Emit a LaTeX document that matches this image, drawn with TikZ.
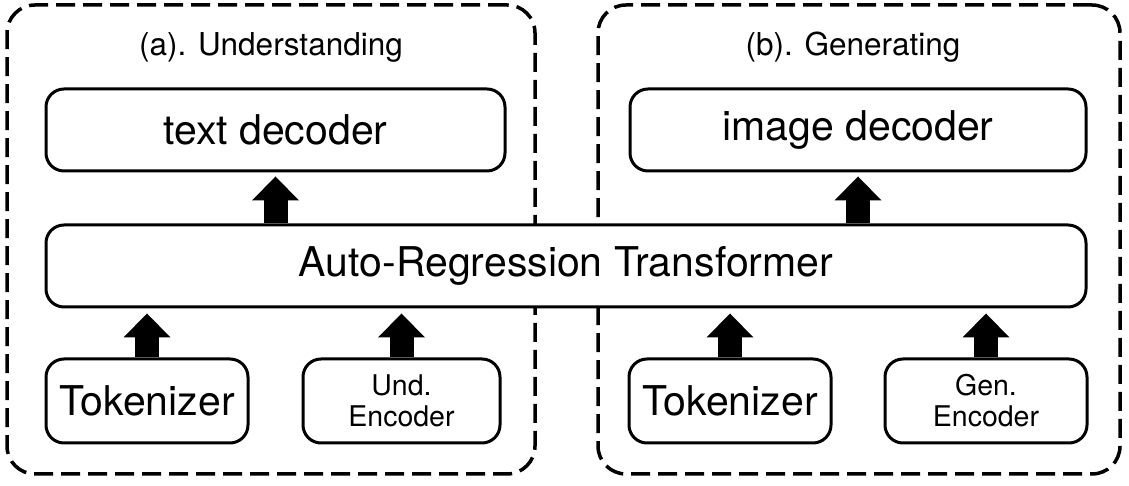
\documentclass[tikz,border=0pt]{standalone}
\usepackage{fontspec}
\setmainfont{TeX Gyre Heros}
\usepackage{tikz}
\usetikzlibrary{arrows.meta, positioning}

\begin{document}
\begin{tikzpicture}[
  x=1pt, y=1pt,
  panel/.style = {rectangle, draw, line width=3.5pt, dash pattern=on 19pt off 8pt, rounded corners=28pt, minimum height=469pt, inner sep=0pt},
  title/.style = {font=\fontsize{31.5}{36}\selectfont},
  block/.style = {rectangle, draw, fill=white, line width=3pt, rounded corners=18pt, minimum height=82pt, inner sep=0pt, font=\fontsize{41}{48}\selectfont},
  small/.style = {block, align=center, minimum height=84pt, font=\fontsize{28.5}{31}\selectfont},
  arrow/.style = {line width=24pt, -{Triangle[width=47pt, length=24pt, line width=0pt]}}
]
\useasboundingbox (0,0) rectangle (1129,486);

% two dashed panels
\node[panel, minimum width=528pt] (undpanel) at (271,246.5) {};
\node[panel, minimum width=522pt] (genpanel) at (859,246.5) {};
\node[title] (undtitle) at (271,439) {(a). Understanding};
\node[title] (gentitle) at (853,439) {(b). Generating};

% decoders and shared transformer
\node[block, minimum width=459pt] (textdec) at (275.5,356) {text decoder};
\node[block, minimum width=456pt] (imgdec) at (858,356) {image decoder};
\node[block, minimum width=1040pt] (art) at (566,220) {Auto-Regression Transformer};

% inputs
\node[block, minimum width=202pt, minimum height=84pt] (toka) at (147,85) {Tokenizer};
\node[small, minimum width=197pt] (undenc) at (401.5,85) {Und.\\Encoder};
\node[block, minimum width=202pt, minimum height=84pt] (tokb) at (730,85) {Tokenizer};
\node[small, minimum width=202pt] (genenc) at (986,85) {Gen.\\Encoder};

\draw[arrow, shorten >=4pt] (art.north -| textdec) -- (textdec.south);
\draw[arrow, shorten >=4pt] (art.north -| imgdec) -- (imgdec.south);
\draw[arrow, shorten >=5pt] (toka.north) -- (toka.north |- art.south);
\draw[arrow, shorten >=5pt] (undenc.north) -- (undenc.north |- art.south);
\draw[arrow, shorten >=5pt] (tokb.north) -- (tokb.north |- art.south);
\draw[arrow, shorten >=5pt] (genenc.north) -- (genenc.north |- art.south);

\end{tikzpicture}
\end{document}
